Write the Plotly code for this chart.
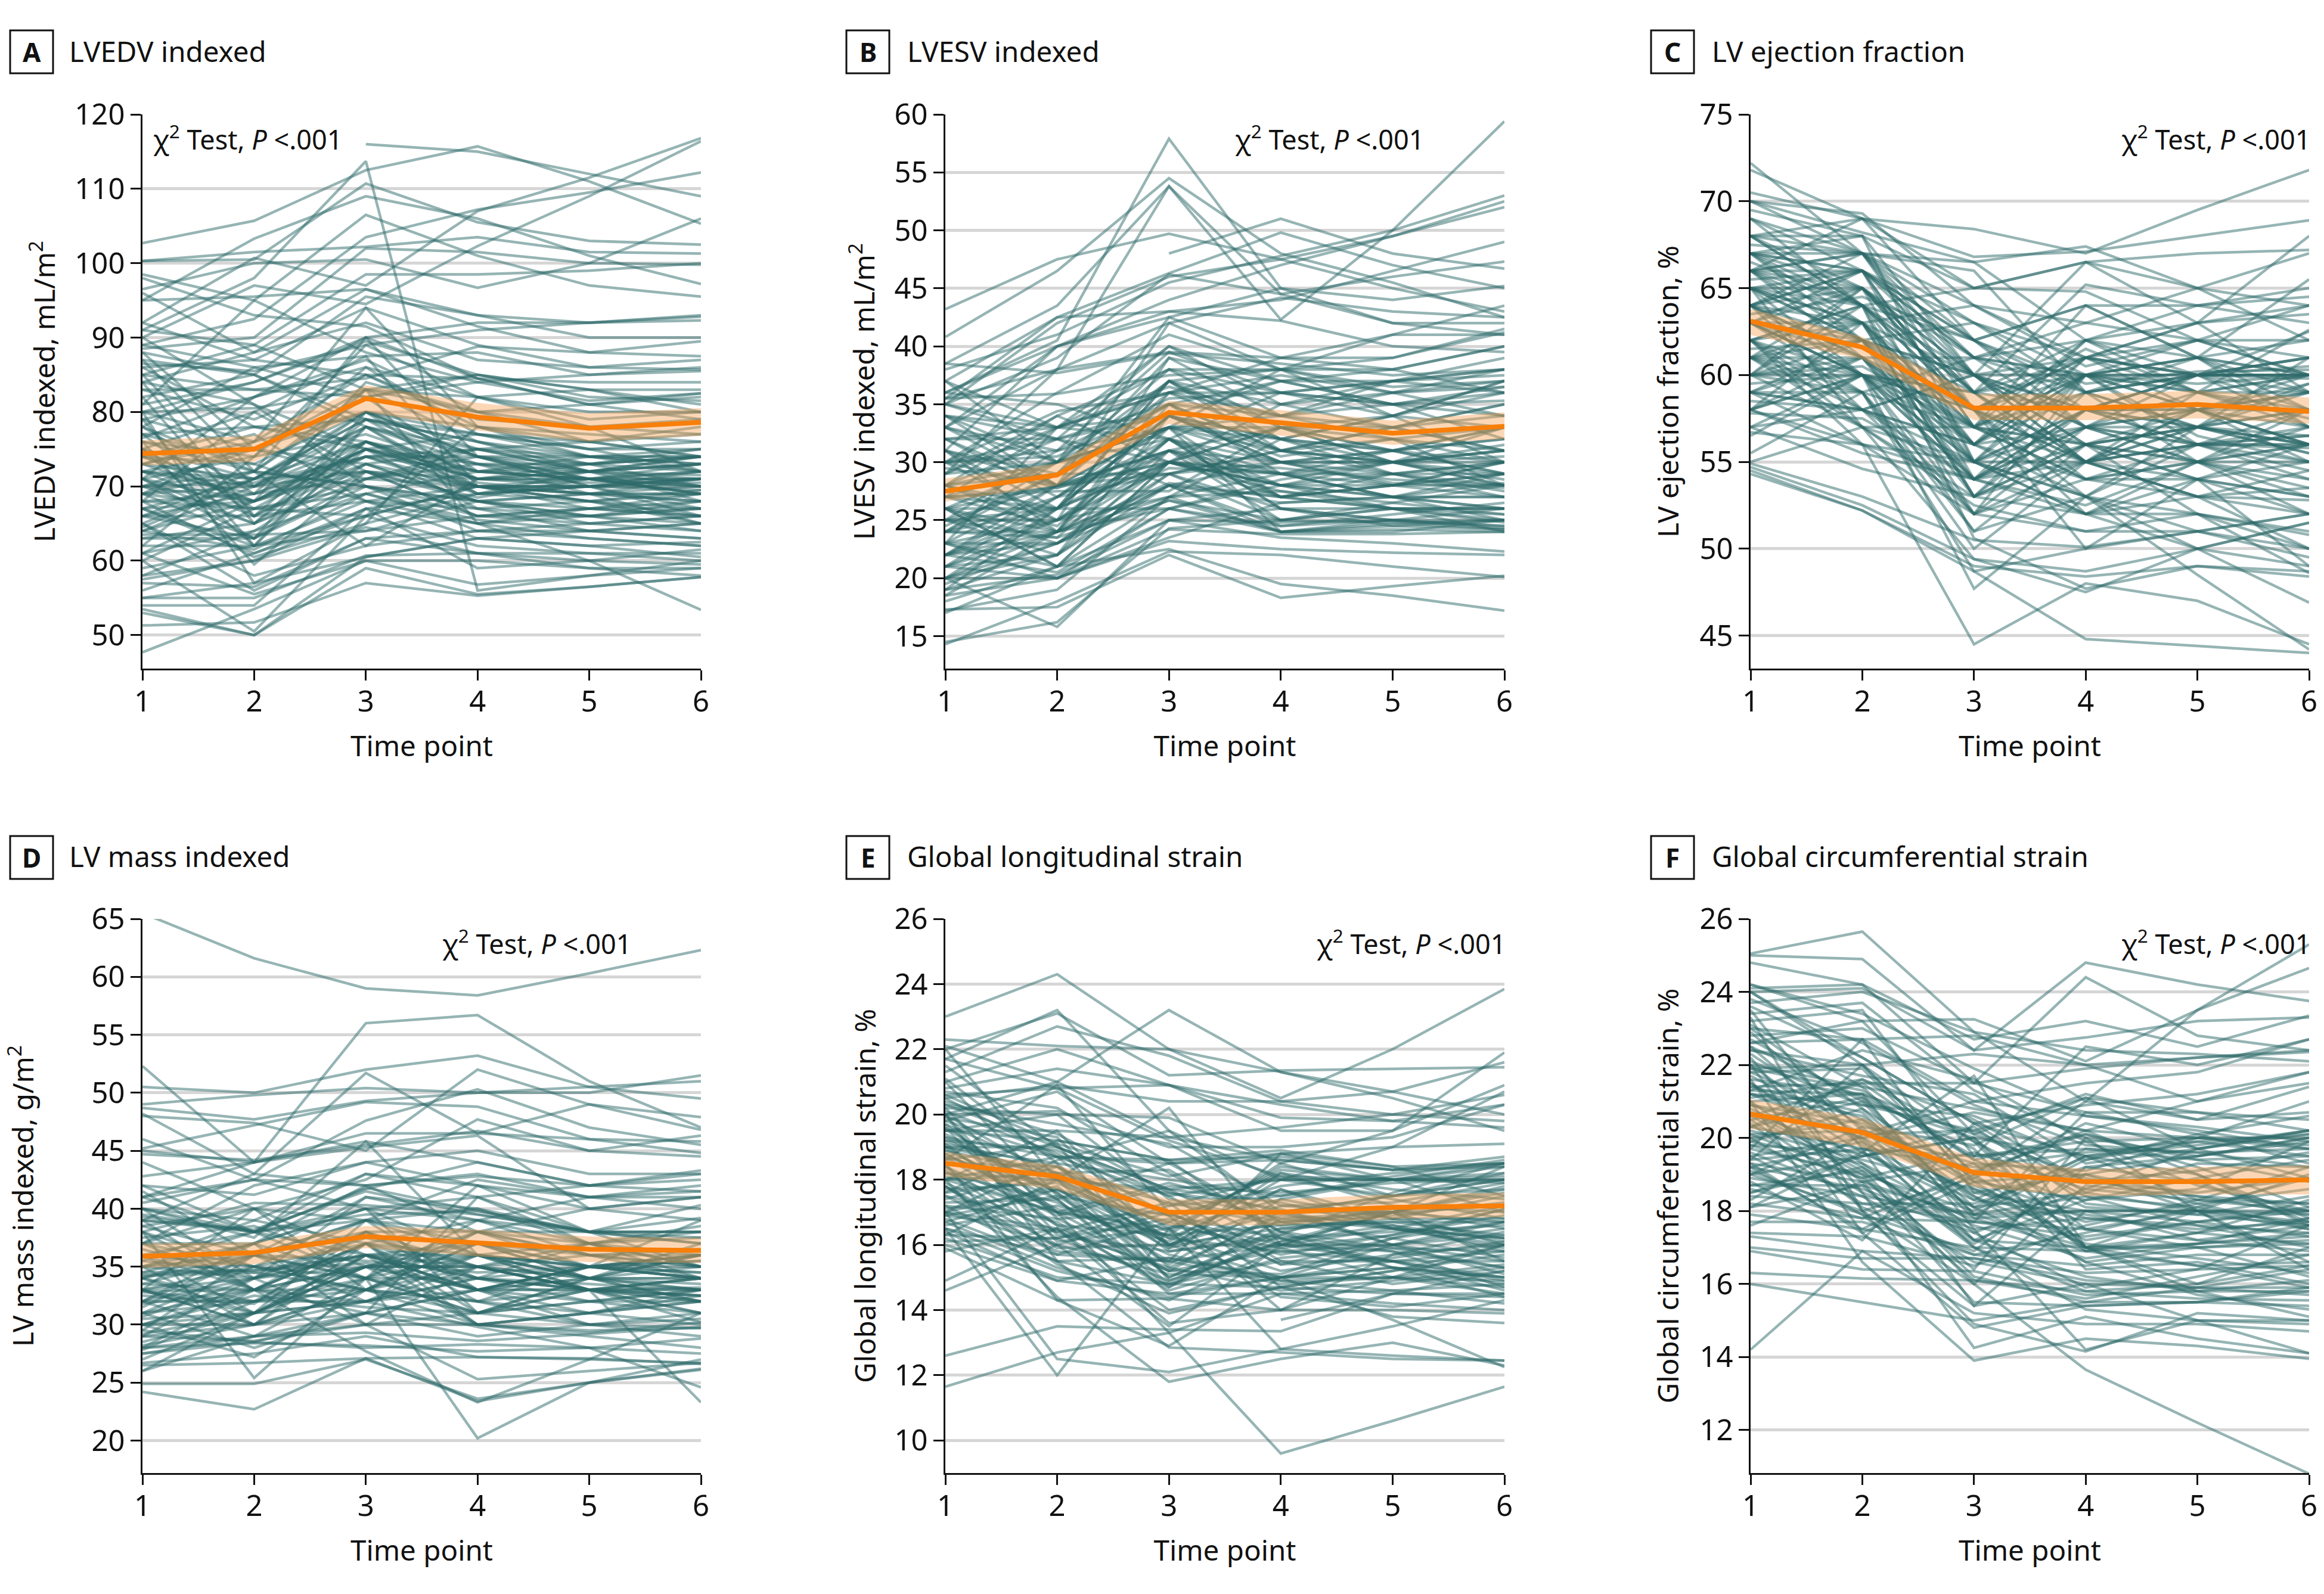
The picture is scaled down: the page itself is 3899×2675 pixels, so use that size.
import plotly.graph_objects as go

time_points = [1, 2, 3, 4, 5, 6]
N = None

a_subjects = [
[102.7,105.7,112.5,115.7,111,105.3],[N,N,116,115,112,109],[91,98,113.7,56,58,60],[100.3,100.5,110.7,105.5,103,102.5],
[95,103.3,109,106,101,97.2],[98.5,95,106.5,101,97,95.5],[92,100.7,97,107,111.5,116.8],[90,97,94.5,102.3,109,116.4],
[89,92.5,103.5,107.2,109.5,112.2],[100.3,101.5,102.2,103.5,101.5,101.3],[96.5,100,100.5,96.7,100,106],[88.5,90,102,101.5,100,99.8],
[85,89,98.5,98.5,99,100],[95,95.5,96.5,93,92,92.8],[88,85,95.5,93,90,90],[84,88,96.5,91.5,88,87.5],[80,84,90,92,92,93],
[86.5,85.5,89,91,92,92.3],[81,95,88,84,85,86],[98,93,91.5,84.5,81,82.5],[92,87,94,89,86,85.7],[76.5,82,90,84.5,84,84],
[85,83,84.5,88.8,88,89.5],[78,86,87.5,88,85,85.5],[80,80.5,83,85,82,81.5],[83,83,82,84,81.5,82.5],[71,82,86,82,80,80],
[79,75,83,82,83,83],[74,78,79,77,76,78],[77,73,80,78,75,76],[72,71,79,76,74,74],[70,68,76,71,71,71],[71,68,75,71,70.5,71],
[72,70,76,70,70,70.5],[68,67,75,71,73,74],[73,68,73,70,70,69.5],[69,70,78,74,72,73],[66,66,74,74,71,72],[70,70.5,74,72,74,74],
[75,71,72,68.5,71,73],[64,70,80,75,73,74],[67,62,76,69,68,69.5],[71,65,71,70,67,67],[63,63,75,70,69,70],[60,67,70,68,67,66],
[58,64,73,68,65,66],[64,61.5,69,65.5,64,65],[67,61,67,65,63,62],[63.5,63.5,64,68,66,67],[57.5,60,64.5,61,60,61.5],[65,56,63,61,61,61],
[55,57,60.5,63,62,60.5],[61,55.5,60,60,59,59],[55,55,60.7,61,59,58],[54,54,67,59,60,59.5],[53,50,59,55.5,56.5,57.8],
[51.3,51.7,57,55.3,56.5,57.8],[47.7,53.5,60,56.8,58,59],[53.5,50,60.5,63,62,62.5],[80,57,65,82,78,72],[76,72,83,65,60,53.4],
[60,50.5,66,70,68,65],[68,80,72,66,67,69],[82,65,76,72,72,71.5],[87,72,62,71,72,73],[75,80,87.5,70,68,66],[69,76,94,78,74,75],
[66,72,90,74,73,72],[74,68,84,80,76,77],[62,74,89,82,79,80],[79,62,78,73,71,69],[86,78,75,67,64,63],[76,59.5,72,70,69,68],
[73,77,68,63,64,65],[69,67,66,78,77,76],[64.5,71,80,77,75,75],[84,81,75,72,71,71],[90,81,70,66,66,68],
[81,84,89.5,85,83,81],[86,87,85,84.5,81,79],[71,74,86,77,74,72],[68,69,83,76,72,71],[80,76,80,70.5,69,69],[70,75,73,68,69,71],
[72,66,79,71,72,74],[67,68,74,69,70,71],[65,71,76,71,71,69],[74,70,72,71,70,72],[63,65,72,68,69,68],[61,68,75,73,72,70],
[78,72,70,68,66,65],[73,71,78,70,68,67],[76,74,77,72,73,75],[70,65,78,69,70,71],[66,63,80,74,74,73],[69,72,70,64,65,66],
[62,62,66,70,71,72],[59,62,68,67,66,64],[72,69,74,75,72,68],[77,78,76,73,69,65],[83,79,85,78,76,74],[87,85,79,76,73,70],
[79,82,87,80,81,82],[82,85,78,75,72,74],[89,86,82,85,83,80],[75,67,69,72,71,70],[71,63,70,67,68,69],[68,60.5,65,69,70,71],
[64,68,72,66,65,64],[57,56.5,63,64,63,62],[56,61,66,62,61,60],[74,73,68,65,66,67],[78,69,75,77,75,72],[66,69,71,73,73,74],
[70,72,82,72,71,70],[73,76,85,79,78,77],[88,75,80,74,70,66],[85,70,74,70,70,70],[84,66,73,75,74,73],[77,66,68,70,69,69],
[65,58,62,64,64,63],[61,64,69,65,67,68],[58,60,67,69,72,73],[75,62,64,66,67,66],[69,63,71,74,70,67],[91,89,83,80,78,79],
[96,88,92,87,86,87],[72,75,71,75,76,74],[67,71,79,74,71,69],
]
a_mean = [74.4, 75, 81.8, 79.3, 77.8, 78.6]
a_low = [72.8, 73.3, 80, 77.5, 76, 76.8]
a_high = [76.2, 76.8, 83.6, 81.2, 79.8, 80.5]

b_subjects = [
[43.2,47.5,49.7,47.5,45,43],[40.8,46.5,54.5,48,45.5,42.5],[38.5,43.5,53.8,44.5,42,42],[36,40.5,57.9,45,42,41],[35.5,38,53.8,42.3,50,59.4],
[N,N,48,51,48,46.7],[37,42.5,46.3,49.8,47,45],[38,41,45.5,47.8,50,53],[35,42,46,47.5,49.5,52.5],[33,40,44,47,49.5,52],
[35.5,42.5,43,44,46.5,49],[36,40,42.5,45,44,45.2],[35,39,46.2,44.5,46,47.3],[33,38,42,44.2,43,42.5],[30,36,41,38,41,43.5],
[31,40,43,42.2,40,39.5],[29,38,39.5,39,39,41.5],[38.5,37.7,39.4,38.5,37.5,38],[35.5,35.9,37.5,38,36.5,37],[30,34.4,36,37.5,36,36.5],
[34,30,42.5,39,38,40],[28,34,38,38,39,41.2],[27,33,36.5,34,36,37],[25,31,35.5,36,37,38],[32,33,36,36,35,35.3],[30,30.5,35,37,37,37.5],
[33,30,33,34,35,36],[28,30,33,31,30,31],[26,28,33,32,31,32],[24,29,35,31,30,30],[30,27.8,31,30,30,30.5],[27,27.8,30,29.5,28.5,28],
[29.5,28,29,30,28.2,27.8],[25,26,30,29,28,28],[23,25,29.5,29,27,28.2],[31,24,28.2,27,28,29],[27,24.5,32,27,26,26],[22,24,30,28,27,27],
[20,24,27,27.5,26.5,25.5],[24,23.5,32,26,26,25.5],[25,23.5,26.7,25,26,26],[21,24,33,24,24.5,25],[19.5,23,26.7,24,24.7,25],[23,23,28,24.5,25,24.5],
[26,21,25,24.8,25,25],[20,22,31,25,26,24],[22,20.5,26,24,24.2,24],[21,20,24.2,23.8,23.8,24],[19,20.3,25,23.5,23,22.3],[18.5,20,23.2,22.5,22.2,22],
[18,21,22.5,19.5,18.5,17.2],[17.3,17.5,22,18.3,19.3,20.2],[14.3,18,22.3,22,21,20.1],[14.5,16.2,24.3,25,24.8,24.2],[17.2,19,27,24,24,25],
[20,15.8,25,26,25,24.3],[24,30,33,27,29,30],[35,32,28,26.5,27,27],[33,31,39.5,36,35,36.5],[32,28,42,38,34,30],[28,25,39,34,37,39],
[26,30,37,31,33,35],[29,34,30,28,30,31.5],[22,27,34,30,30,31],[23,28,31,29,31,29],[31,26,34,30,28,30],[34,28,30,33,31,33],[19,26,37,33,30,28],
[28,32,40,35,33,31],[37,33,34,31,32,28],[26,24,36,32,29,27.5],[23,33,32,28,26,26],[30,25,27,32,34,36],[27,27.5,27.5,33,33,34],
[24,27,33,30,31,32],[22,25,31,28,29,30],[25,28,36,34,33,31],[29,30,38,36,34,33],[21,22,29,31,30,29],[20,23,30,27,28,29],[28,24,35,29,27,25],
[26,26,31,33,32,30],[32,32,34,32,31,29],[34,32,30,28,27,26],[31,28,37,35,37,38],[27,30,32,26,25,24.5],[24,24,28,30,31,33],[23,21,27,29,29,28],
[22,26,37,38,36,34],[19,22,28,27,28,30],[25,22,34,32,34,37],[30,31,33,38,38,36],[36,35,32,30,29,27],[33,28,31,27,26,25],[21,25,32,29,27,26],
[18.5,24,26,24.5,25.5,26.5],[20,26,34,30.5,32,33],[24.5,29,39,37,35,32],[26,21,30,35,36,38],[35,33,40,37,35,34],[28,29,29,25,26.5,28],[29,33,38,33,31,30],
[23,20,26,28,28,27],[22,23,28,24,25,26],[31,29,37,32,30,28.5],[27,26,34,37,38,40],[25,25,30,29,30,33],[21,27,29,31,33,35],[20,20,23.5,26.5,27,29],
[17,21,30,27.5,26,24.8],[30,32,35,31,29,29],[32,27,32,36,37,36],[34,33,36,39,41,41],[37,30,35,34,32,31],[22,28,33,33,34,37],[26,23,29,26,24.5,24.2],
[24,26,26,28.5,30,31],[28,26,30,33,30,28],
]
b_mean = [27.5, 28.9, 34.3, 33.4, 32.5, 33.1]
b_low = [26.6, 28, 33.3, 32.3, 31.5, 32]
b_high = [28.6, 29.9, 35.3, 34.5, 33.6, 34.3]

c_subjects = [
[72.2,67,62,64,61,58],[71.8,69,68.4,67,69.5,71.8],[70.5,69,66.8,67.1,68,68.9],[70,69.3,64,61,58,56],[69.5,68,65,66.5,65,64],[70,68.2,66.5,67.4,65,62],
[69,67,66.5,62,63,68],[68,68,60,66.5,67,67.2],[67.5,67,64,63,65,67],[67,67,66,59,61,65.5],[67,65,59,65.2,64,63],[66.5,64,65,64.8,62,61],
[66,66,62,64,64,64.5],[66,64,60,61,63,63.5],[65.5,66,57,62,60,62.5],[65,65,60,60,61,60],[65,63,64,60.5,62,64],[64,66,55,58,60,60],[64,61,61,59,60,61],
[64,65,58,61,59,60],[63.5,64.5,62,59.5,60.2,60.3],[63,60,56,60,59.5,60],[63,62,54,56,58,59],[62,63,58,61.5,59,58],[62,58,60,57,56,56],[61.5,62,55,55,56,56],
[61,60,59,58,57,56.5],[61,57,57,56,57,55.5],[61,61,53,56,55,55],[60,60.5,57,54,55,57],[60,59,52,57,55,53.5],[59.5,60,54,52.5,55,54],[59,58,56,54,54,53],
[59,62,52,55,53,52.8],[58.5,58,55,52,53,54.5],[58,55.5,54,57,56,54],[58,60,51,56,52,51],[57.8,57.5,54,52,50,51.5],[57,54.6,53,59,55,52],[56.7,56,55,53,50,49],
[56.5,60,52,51,52,50.8],[55.5,59,48.7,50,51,50],[55,57,52.5,51,51,52],[54.9,53,50.5,50.1,51,52],[54.7,52.5,49.4,48.7,50,51.5],[54.5,52.2,49,48.4,49,48.4],
[54.3,52.2,48.7,44.8,44.4,44],[62,56,44.5,48,47,44.5],[63,60,47.7,53,48.5,44.2],[65,57,49.4,47.5,50,46.9],[68,64,50.6,47.7,49,48.7],[60,64,58,50,54,49],
[66,69,65,66.5,63,59],[67,64,62,57,58,59.5],[68,67,63,60,58,56],[63,66,61,57,60,57],[61,63,57,64,61,57],[60,65,60,56,57,55.5],[65,62,58,55,53,50],
[64,60,58,53,52,48.6],[62,64,59,55,59,62.6],[59,61,55,61,60,60],[58,63,53,55,57,61],[66,61,56,57,55,56],[67,63,55,53,56,58],[65,62,57,60,56.5,55],[57,58,54,57,57,56],
[60,57,53,58,58,58],[64,58,52,60,58,57],[58,60,58,52,55,58],[61,59,61,60,56,55.8],[63,59,51,53,57,59.5],
[67,66,62,59,60,60.5],[66,67,59,60,59,59],[65,64,56,60,61,62],[64,66,61,63,62,60],[63,63,60,57,58,56],[62,60,57,59,60,60],[68,64,58,55,57,59],[69,66,60,58,56,55],
[66,62,63,61,60,58],[65,60,55,58,56,54.5],[64,63,57,55,54,56],[63,65,54,58,60,61],[62,64,53,56,57,58],[61,58,56,61,62,60],[60,62,59,54,53,52],[59,59,57,60,59,57.5],
[58,56,52,54,56,57],[67,68,55,57,59,60],[68,65,61,62,61,59],[66,65,59,55,53,53.5],[65,63,53,52,54,55],[64,61,54,60,60,61],[63,61,58,56,54,52],[62,59,50,55,58,60],
[61,62,60,58,58,59],[60,61,56,59,57,56],[59,58,60,55,56,56.5],[67,66,57,54,55,56],[70,67,60,56,55,53],[69,64,59,61,63,64],[66,63,56,62,59,57],[64,67,61,60,60,60],
[63,60,59,62,64,65],[62,57,55,52,52,50],[61,65,58,60,62,62],[60,60,54,58,60,59.8],[58,61,57,56,54,53],[57,60,55,60,61,60],[65,66,63,59,57,56],[64,62,60,55,56,56.5],
[68,69,62,58,57,58],[67,62,56,53,51,49.5],[66,67,58,61,60,59],[59,56,54,55,58,55],
]
c_mean = [63.1, 61.6, 58.1, 58.1, 58.3, 57.9]
c_low = [62.3, 60.9, 57.4, 57.4, 57.5, 57.2]
c_high = [63.8, 62.2, 58.9, 58.9, 59.1, 58.7]

d_subjects = [
[65.5,61.6,59,58.4,60.3,62.3],[52.3,44,56,56.7,51,47],[50.5,50,52,53.2,50.5,49.5],[49,49.8,50.4,50,50.5,51],[48.7,47.7,49.3,50,50,51.5],[48.2,43,51.7,46.5,49,47.9],
[48,47.4,45,52,49,46.8],[46,42.5,47.6,50.3,47,45.5],[45.2,47.2,49.2,48.8,46,44.8],[45,44,46.5,46.5,46,45.8],[44.7,44.2,45.5,46.7,45,44.5],[44,40,42.5,47.7,45,46.3],
[42.8,44,45.8,44,42,43.3],[42,41.2,44,45,43,43],[41,44,45.3,46.3,40,41],[40.5,42.5,42,42.8,42,41.5],[40,38,41.7,44,42,42.5],[39.5,38,39.5,39.8,38,39.2],[39,38.2,41.5,39.5,38,38],
[38,40.5,40.3,39.5,38,38],[37,37,40,41,38,40.3],[36,38,39,42.5,41,41],[35,36,38,38,38,37.5],[34.3,34.7,36,36,35,36],[34,36,34,39,36,35],[33,34,36,37,34,34],[32.9,33,35,33,33,32.5],
[32,32,35,35,33,32.5],[31,32,34,34,33,34],[30.5,31,32,34,33,33.2],[30,30,33,31,32,32],[30,32.5,31.5,31,30,29.7],[29.5,28.5,31,30,29.5,29.7],[29,28.6,30,30,29.3,30.2],
[28,29,29.3,28.6,29.2,29.8],[28,28.4,28.2,27.7,28,28.8],[27.5,28.5,28,28.3,28,27.5],[26.7,27.5,29,27.2,27,26.7],[26.5,26.7,27.1,27.2,27.1,26.6],[26,29,30,25.3,26,26.7],
[24.9,24.9,27,23.6,25,26.2],[24.2,22.7,27.1,23.4,25,26.1],[38,25.4,34,20.2,25,27],[33,30,37,30,31,32],[36,33,32,29.8,28,24.6],[35,37,30,35,33,23.3],[38,33,27.7,23.3,27,31],
[41,42.5,40,31,33,34],[40,37.5,45.8,36,33,30.2],[37,35,34,42,38,35],[33,40,39,36,34,33],[31,35,37,31,34,36],[35,30,36,33,35,35.5],[34,32,32,36,34,34],[29,34,38,34,32,31],
[31.5,36,34,38,35,34],[32,34,30,31,34,37],[36,31,35,30,31,33],[38,35,33,35,37,37.5],[27,31,39,33,33,31],[30,27.2,33,37,34,36],[39,33,38,33,30,29],[37,40,33,32,35,39],
[33,30,31,41,37,34],[34,37,34,31,33,33],[35,34,37.5,35,34,33],[31,33,33,37,36,36.5],[32,36,39,40,37,36],[28,33,35,35,36,35],[41,38,36,34,33,32],[33,31,36,33,35,34],
[39.3,38,41.8,39.8,38,37],[39,38,40,39,37,38.5],[37.5,38.5,35,36,35,34.5],[36.5,34,35,37,35,35],[35.5,34.5,36,34,33.5,33],[34.5,34.7,35.3,33,34,33.5],[34.2,34.5,33,32,31,32],[33.5,33,37,34,35,36],
[32.8,32,33,36,34,32],[32.5,31.8,38,35,33,33],[31.8,33,31,33,35,34.5],[30.7,34,36,35,34,32],[30,31,35,33,34,35],[29.2,31,34,36,33,34],[28.2,30,33,30,31,32.5],[27.8,32,37,32,30,31],
[41.5,36,39,38,36,36],[40,34,41,40,38,38],[38.5,40,36,33,32,33],[37,33,37,39,38,37],[36,35,33,38,40,41],[35,38,34,32,33,32.5],[34,31,32,34,37,35],[33,35,39,37,35,35.5],
[32,29,34,31,32,33],[31,28,31,33,31,30],[30,33,37,35,33,32],[29,30,32,33,35,34],[28.5,31,35,38,37,38],[27.5,29,31,29,30,30.5],[33.5,36,41,39,41,42],[35.5,39,43,42,40,39],
[37,42,44,42,41,40],[39,43,42,38,36,34],[42,38,43,41,42,43],[34.5,37,42,43,41,41.5],[32,37,40,36,35,34],[29.5,36,32,35,33,31],[26,31,36,30,29,28],[40,39,37,36,37,35],[38.5,36,35.5,34.5,35,36],
]
d_mean = [35.9, 36.2, 37.6, 37.1, 36.5, 36.4]
d_low = [34.9, 35.2, 36.6, 35.9, 35.4, 35.3]
d_high = [37, 37.1, 38.5, 38.2, 37.6, 37.5]

e_subjects = [
[23,24.3,22,20.5,22,23.85],[22.3,22.1,22,21.3,20.7,20],[22,23.1,21.2,21.35,21.4,21.45],[22.1,21,23.2,21.3,20.5,19.5],[21.7,23.2,19.5,18,19,20.7],[21.3,22.7,21.8,20.4,20,19.8],
[21,22,20.9,20.3,19.8,19.6],[20.8,21.4,20.9,19.5,19.5,21.9],[20.5,20.9,20.4,20.4,20.7,21.6],[20.6,20.8,20.9,19.9,19.8,20.3],[20.2,20,19.9,18.5,19.5,20.9],[20,21,19.3,19.6,20,20.6],
[20,20.1,19,19,19.3,20.3],[19.8,20.7,18.5,18.8,19,19.1],[19.5,19.5,19.3,18.6,18.3,18.7],[19.5,19.2,18.6,18.9,18.4,18.5],[19.3,18.7,18.6,18.7,18.3,18.5],[19,19,17.7,18,18,18],[19,18.5,18,17.5,18,18.5],
[18.8,17,17.9,17,17.5,18],[18.5,18.4,16.5,18.3,18,17.9],[18.2,18,17.7,16,17,17.7],[18,17,16.5,17.4,16.8,16.8],[18,18.7,16,15,16,16.7],[17.8,16,17,17,16.5,16.2],[17.5,15.8,15.5,16,16,15.5],
[17.3,17.4,14.7,16.3,15.8,15.3],[17,16.5,15.2,15.8,16,16.5],[17,16,15.1,15,15.3,15],[16.8,15.5,14.8,15.5,15.5,15],[16.5,15.7,15.5,14.8,15,14.5],[16.5,15.2,14.4,15,15,14.9],
[16.2,15,14.8,14.7,14.5,14.4],[16,14.9,14.5,14.5,14.2,14],[15.9,14.3,14.35,14,14,13.9],[15.8,16.5,14,14.7,13.8,13.6],[14.9,16.5,13.6,14,15.7,16],[14.6,16,13.5,16,15.5,15.5],
[N,N,N,13.7,14.5,15.2],[12.6,13.5,13.4,13.35,14.5,14.5],[11.65,12.7,13.3,14.5,14.6,14.8],[17,12.5,12.1,12.8,13.5,14.3],[16.5,12,16.5,12.8,12.6,12.45],[18,14.4,11.8,12.5,13,12.3],
[20,15.5,12.85,12.7,12.5,12.45],[19,17,13.3,9.6,10.6,11.65],[18.5,14.3,12.9,15,13.7,12.25],[21,17.5,16.9,14,15,16],[22,18,16,17,17,17.2],[20.3,19,17.5,18,17.5,18.2],[19.6,17.4,18.5,16.7,17,15.5],
[19.2,18,20.2,16,17,16],[18,19.5,16,17.7,16.5,17.2],[17.6,18,15,16.4,17,16.7],[17,18.6,19.5,17,16,16.3],[16.9,17.5,15.5,18.8,18,17],[20.5,18.7,17.5,15.5,14.8,15.2],[20,16.3,15.8,16.2,15.3,15],
[19.7,17,16.3,18.5,17.5,18],[18.7,16.6,14.7,16.8,17,18.4],[17.2,16.8,17,15.4,16.2,16.7],[16.7,17.7,16.2,15.8,15.5,15.8],[18.3,15.9,16,16.5,16.8,17.5],[21.5,19,17.7,17.3,16.5,16.2],[20.2,16.8,15.2,17,17.5,17.7],
[17.8,15.7,16.7,18.2,17.2,17],[16.3,16.2,16.8,16,15.8,14.7],[18.9,17.4,14.5,15,15.5,14.6],
[20.4,19.4,17.6,16.8,16.5,16],[20.1,18.8,16.9,17.8,18.2,18.5],[19.9,19.3,15.9,16.7,16.9,17.3],[19.7,18.2,18.3,16.4,15.9,15.8],[19.4,17.6,15.4,17.4,18,18.4],[19.2,18.9,17.2,18.1,18,18],
[19.1,16.6,16.3,15.2,15.7,16.4],[18.9,18.1,16,17.2,17,17.6],[18.7,17.7,16.7,15.7,16.3,16.9],[18.6,19.1,14.9,16,16.5,15.9],[18.4,16.9,17.8,17.6,17.9,18],[18.2,17.3,15.7,14.9,15,15.4],
[18,18.2,17.3,16.6,17.1,16.5],[17.9,16.4,15.3,16.9,16.6,16.1],[17.7,17.9,16.4,18.4,18,18.2],[17.5,16.7,14.6,15.6,15.9,15.3],[17.4,18.4,16.9,16.2,15.5,14.9],[17.2,15.5,15.6,15,15.3,14.4],
[17,17.8,15,16.5,16.7,16.7],[16.9,16.4,17.3,14.7,15.2,15.7],[16.7,15.3,14.3,15.9,16.3,17.1],[16.6,17.2,16.3,16.6,16.7,16.3],[16.4,14.9,15.6,14.9,14.6,14.2],[16.1,16.2,14.9,16.1,17,17.8],
[19.8,18.7,18.5,18.6,18.3,18.4],[20.3,19.7,19.1,17.2,17.3,17.9],[19.5,20,17.4,16.7,16.2,15.6],[19.1,18.4,15.8,16.3,17.6,18.5],[18.8,17.1,16.1,18,18,18.1],[18.6,20.9,17,15.4,15.6,16.1],
[20,18,16.6,15.9,15,14.7],[20.6,19.1,18.1,18.8,18.4,17.5],[21.1,18.5,15.3,14.6,14.9,15.3],[17.6,19.2,18.6,16.2,16.4,16.6],[17.1,17.7,15.9,18.2,17.7,17.4],[16.3,18,17.6,17.1,16,15.1],
[19.3,17.6,14.8,16.1,16.6,15.8],[18.4,16.2,17.2,17.5,18.1,18.6],[17.8,15.4,13.9,14.7,15.2,16],[21.7,20.8,19.2,18.1,17.4,16.8],[20.7,20.2,18.2,16.4,15.3,14.8],[19.6,16.1,16.5,14.4,14.1,14.5],
[18.1,17,15.2,15.1,16.2,17.1],[19,18.2,16.2,17.7,16.8,16.2],
]
e_mean = [18.5, 18.1, 17, 17, 17.15, 17.2]
e_low = [18.1, 17.7, 16.6, 16.6, 16.8, 16.85]
e_high = [18.85, 18.45, 17.4, 17.4, 17.55, 17.6]

f_subjects = [
[25.05,25.65,22.9,22.4,22.3,22.1],[25,24.9,22.4,24.8,24.2,23.75],[24.8,24.2,21.5,24.4,22.8,22.4],[24.2,23.2,23.25,22.1,23.5,24.65],[24.1,24.2,22.7,23.2,22.5,23.35],[24,24.1,22.4,22.75,23.2,23.3],
[23.7,24,22.9,21,23.5,25.3],[23.2,23.5,19.5,22.5,22,22.7],[23,22.7,22.8,22,22.2,22.4],[22.8,23,21.5,21.9,22.2,22.35],[22.6,22.7,21,21.5,21.8,22.7],[22.4,22,22.3,22,21,21.8],[22,21.4,20.8,20.2,21,21.5],
[21.9,22,19,21,20.5,20.7],[21.6,21.2,20.1,21.2,20.5,21.4],[21.4,21.5,21.5,20.7,20.7,20.2],[21.2,20,20.7,20.2,20,20],[21,21.2,19.5,19.9,20,19.7],[20.7,19.5,20,19.5,19.8,20.2],[20.3,19.7,19.5,19.7,19.6,19.7],
[20,20.5,18.8,19,19.5,19.9],[19.8,19.6,18.1,18.5,19.3,19.2],[19.7,19,18,19.5,18.3,18.2],[19.5,20,18.5,18,18,17.7],[19.3,18.8,17.8,18,18,18],[19,18,18.9,17.8,17.5,17.7],[18.7,18.7,17.9,17,17.1,17.4],[18.5,19.2,17.2,17,17,17.1],
[18.2,17.8,17.7,17.5,17.2,17.6],[17.9,17.5,17,16.9,16.5,16.6],[17.7,17.7,16.8,16.5,16.8,16.8],[17.3,16.9,16.7,16.3,16.4,16.5],[17,16.7,16.7,16.1,15.9,15.9],[16.9,16.4,16.35,15.7,15.8,15.8],[16.3,16.15,16.1,15.8,15.6,15.55],
[16,15.5,15,15.5,15.5,15.4],[14.2,16.9,15.2,14.9,14.9,14.7],[23.3,18,14.9,14.15,15.2,15],[22.2,18.5,14.25,15.1,14.5,14.1],[21,16.6,13.9,14.5,14.3,13.95],[22,18,16,13.65,12.2,10.8],[21.6,17.4,14.8,15.4,15.5,15.8],
[21,18.8,15.5,15.4,15.5,15.9],[23.5,19.7,15.4,16,15,14.9],[22.5,19.9,17,15.3,15,15],[21.3,21.2,17.5,14.2,15,14.1],[20.3,21,20,17,16,16.5],[19.2,17.5,19,20.2,19,17.6],[18.5,19.5,20,17.5,18,19],[24,22,19,17,18,17.5],
[22.7,21,17.9,18.4,17.6,17],[21.8,20.5,18.3,19.7,19.4,19.5],[20.5,18.5,17.4,18.6,19.7,20.2],[20.1,18.9,16.4,20,18,16.4],[19.7,22.7,18.5,19,18,16.6],[19.4,22,19.9,17,16.5,15.9],[19,20.3,17.2,18.3,18.6,19.9],[18.8,17.2,20.4,18.5,18,17.9],
[23.4,23.7,21.3,20,19.5,20],[22.1,20.9,20.2,21.1,19.7,18.9],[20.9,20.4,18.7,17.5,17,16.2],[20.6,19,16,18.7,18.4,18.2],[21.2,20.6,18.4,16.6,15.7,15.3],[24,22.2,20.4,19.5,19,17.8],[22.9,20.2,19.3,19.1,20,21],[21.5,19.3,17,15.8,16,17],
[20,18.2,17.7,17.3,17.7,18],[19.1,17.9,15.4,18,17.2,16.9],[23,20.8,18.1,19.5,20,19.8],[18.1,19.6,21.7,17,17.4,18.3],[17.6,18.8,19.3,16.9,17.4,17.8],
[22.4,21.7,21.2,19.3,19.7,20.1],[21.9,21.3,19.4,18.1,17.9,17.6],[21.7,20.1,21,20.6,20.3,19.9],[21.4,20.7,17.8,16.9,17.1,17.3],[21.1,21.6,20.5,18.8,19.1,19.6],[20.8,19.2,17.1,19,18.4,17.9],
[20.5,21.1,19.7,16.4,16.6,16],[20.2,19.4,18.6,17.7,18.2,18.6],[19.9,20.8,18.9,20.4,19.7,20.2],[19.6,18.4,16.6,16,15.9,15.7],[19.4,19.7,19.2,19.6,19.9,19.5],[19.2,18.6,17.5,17.8,17.6,17.4],
[19,19.5,20.3,18.2,17.9,18.4],[18.7,19.1,17.6,16.7,17.1,17.8],[18.4,18.2,18.2,19.2,18.8,17.7],[18.1,18.7,16.1,15.6,16.2,16.8],[23.8,22.6,20.9,19.8,19.6,19.2],[23.1,21.4,18.6,17.2,17.7,18.1],
[22.6,23.2,20.1,18.9,18.2,17.5],[22.3,20.3,19.8,21.1,20.7,20.5],[22,19.8,17.2,16.2,15.8,16.1],[21.8,21.9,18.8,18.3,18.9,19.4],[21.5,19.6,18.3,17.9,17.4,17.1],[21.2,20.9,20.6,19.4,19.9,20.1],
[20.9,20,17.4,15.9,16.4,17.6],[20.6,21.5,19.4,20.1,19.4,18.8],[20.4,18.1,16.8,17.4,18.1,18.9],[20.1,20.2,18.4,17.1,16.7,16.3],[19.8,18.9,19.6,18.6,18.3,18],[19.5,17.9,16.9,19.2,19.5,20],
[19.2,19.9,18.1,16.6,17,17.2],[18.9,18.4,17.9,18,17.7,17.3],[18.6,17.8,19.1,20.1,19.2,18.1],[24.2,23.4,21.9,20.6,20.2,19.7],[23.6,22.2,20.4,20.9,21.2,21.8],[22.5,21.1,17.9,19.4,20.1,20.6],
[21.3,22.4,21.6,19.9,18.7,18],[20.7,19.1,16.2,15.5,15.9,16.4],[20.3,21.6,19.9,18.4,18.1,17.6],[19.9,19.3,17.7,20.7,20.1,19.3],[19.3,17.4,18.8,17,15.8,15.1],[18.3,20.1,20.2,18.8,18.5,18.9],[17.4,17.3,16.5,17.6,18.3,19.2],
]
f_mean = [20.65, 20.15, 19.05, 18.8, 18.8, 18.85]
f_low = [20.25, 19.75, 18.65, 18.4, 18.45, 18.45]
f_high = [21.05, 20.55, 19.45, 19.15, 19.2, 19.25]

letters = ["A", "B", "C", "D", "E", "F"]
titles = ["LVEDV indexed", "LVESV indexed", "LV ejection fraction", "LV mass indexed",
          "Global longitudinal strain", "Global circumferential strain"]
y_titles = ["LVEDV indexed, mL/m<sup>2</sup>", "LVESV indexed, mL/m<sup>2</sup>", "LV ejection fraction, %",
            "LV mass indexed, g/m<sup>2</sup>", "Global longitudinal strain, %", "Global circumferential strain, %"]
y_ticks = [list(range(50, 121, 10)), list(range(15, 61, 5)), list(range(45, 76, 5)),
           list(range(20, 66, 5)), list(range(10, 27, 2)), list(range(12, 27, 2))]
y_ranges = [[45.5, 120], [12.2, 60], [43.1, 75], [17.2, 65], [9.0, 26], [10.82, 26]]
subjects = [a_subjects, b_subjects, c_subjects, d_subjects, e_subjects, f_subjects]
means = [a_mean, b_mean, c_mean, d_mean, e_mean, f_mean]
lows = [a_low, b_low, c_low, d_low, e_low, f_low]
highs = [a_high, b_high, c_high, d_high, e_high, f_high]

W, H = 3899, 2675
FONT = "Noto Sans"
INK = "#111111"
col_x = [(239, 1176), (1586, 2524), (2937, 3874)]
row_y = [(192, 1122), (1542, 2472)]
box_x = [17, 1420, 2770]
box_y = [51, 1403]
title_x = [114, 1520, 2870]
title_y = [86, 1436]
test_right = [577, 2392, 3879, 1062, 2529, 3879]
ytitle_standoff = [18, 18, 20, 84, 16, 20]

fig = go.Figure()
ann, shapes = [], []
for i in range(6):
    r, c = divmod(i, 3)
    sfx = "" if i == 0 else str(i + 1)
    x0, x1 = col_x[c]
    y0, y1 = row_y[r]
    xa, ya = "x" + sfx, "y" + sfx
    for s in subjects[i]:
        fig.add_trace(go.Scatter(x=time_points, y=s, mode="lines", hoverinfo="skip", showlegend=False,
                                 line=dict(color="rgba(45,105,105,0.5)", width=4.5), xaxis=xa, yaxis=ya))
    fig.add_trace(go.Scatter(x=time_points + time_points[::-1], y=highs[i] + lows[i][::-1], fill="toself",
                             fillcolor="rgba(248,160,80,0.42)", mode="none", hoverinfo="skip",
                             showlegend=False, xaxis=xa, yaxis=ya))
    fig.add_trace(go.Scatter(x=time_points, y=means[i], mode="lines", hoverinfo="skip", showlegend=False,
                             line=dict(color="#F77F0A", width=8), xaxis=xa, yaxis=ya))
    fig.update_layout({
        "xaxis" + sfx: dict(domain=[x0 / W, x1 / W], anchor=ya, range=[1, 6], tickvals=time_points, ticks="outside",
                            ticklen=17, tickwidth=2.5, tickcolor=INK, showline=True, linewidth=2.5, linecolor=INK,
                            showgrid=False, zeroline=False, automargin=False, ticklabelstandoff=-7,
                            tickfont=dict(family=FONT, size=49, color=INK),
                            title=dict(text="Time point", standoff=30, font=dict(family=FONT, size=47.5, color=INK))),
        "yaxis" + sfx: dict(domain=[1 - y1 / H, 1 - y0 / H], anchor=xa, range=y_ranges[i], tickvals=y_ticks[i],
                            ticks="outside", ticklen=17, tickwidth=2.5, tickcolor=INK, showline=True, linewidth=2.5,
                            linecolor=INK, showgrid=True, gridcolor="#d6d6d6", gridwidth=5, zeroline=False, automargin=False,
                            tickfont=dict(family=FONT, size=49, color=INK),
                            title=dict(text=y_titles[i], standoff=ytitle_standoff[i],
                                       font=dict(family=FONT, size=47.5, color=INK))),
    })
    bx, by = box_x[c], box_y[r]
    shapes.append(dict(type="rect", xref="paper", yref="paper", x0=bx / W, x1=(bx + 72) / W,
                       y0=1 - by / H, y1=1 - (by + 72) / H, line=dict(color=INK, width=3), fillcolor="white"))
    ann.append(dict(xref="paper", yref="paper", x=(bx + 36) / W, y=1 - (by + 36) / H, text="<b>%s</b>" % letters[i],
                    showarrow=False, xanchor="center", yanchor="middle", font=dict(family=FONT, size=44, color=INK)))
    ann.append(dict(xref="paper", yref="paper", x=title_x[c] / W, y=1 - title_y[r] / H, text=titles[i],
                    showarrow=False, xanchor="left", yanchor="middle", font=dict(family=FONT, size=47.5, color=INK)))
    ann.append(dict(xref="paper", yref="paper", x=test_right[i] / W, y=1 - (y0 + 39) / H,
                    text="χ<sup>2</sup> Test, <i>P</i> &lt;.001", showarrow=False, xanchor="right", yanchor="middle",
                    font=dict(family=FONT, size=45, color=INK)))

fig.update_layout(width=W, height=H, margin=dict(l=0, r=0, t=0, b=0, pad=0), plot_bgcolor="white",
                  paper_bgcolor="white", showlegend=False, annotations=ann, shapes=shapes)
fig.write_html("out.html", config={"displayModeBar": False}, post_script="document.body.style.margin='0';")
